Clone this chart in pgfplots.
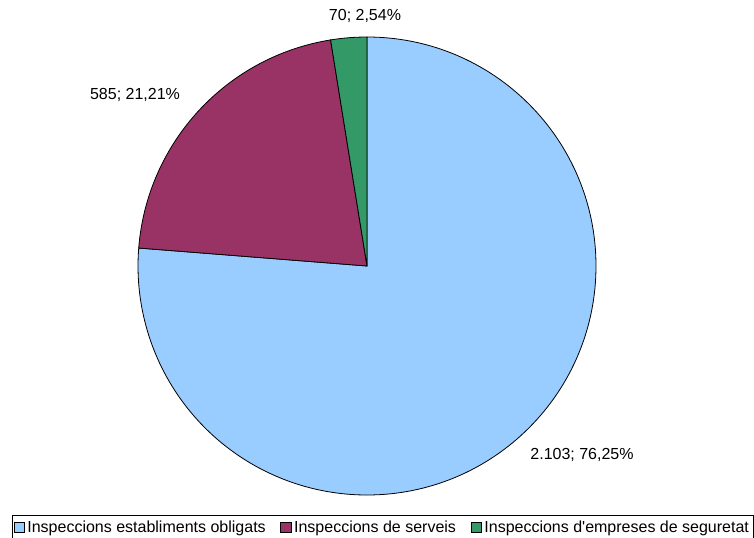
\documentclass[border=0pt]{standalone}
\usepackage{pgfplots}
\pgfplotsset{compat=1.18}
\usepackage{pgfplotstable}
\usepackage{fontspec}
\setmainfont{Liberation Sans}

\definecolor{cBlue}{HTML}{99CCFF}
\definecolor{cMaroon}{HTML}{993366}
\definecolor{cGreen}{HTML}{339966}

% valors (inspeccions)
\pgfplotstableread{
value
2103
585
70
}\piedata

\pgfplotstablegetelem{0}{value}\of\piedata \let\vA\pgfplotsretval
\pgfplotstablegetelem{1}{value}\of\piedata \let\vB\pgfplotsretval
\pgfplotstablegetelem{2}{value}\of\piedata \let\vC\pgfplotsretval
\pgfmathsetmacro\total{\vA+\vB+\vC}
\pgfmathsetmacro\fA{\vA/\total}
\pgfmathsetmacro\fB{\vB/\total}
\pgfmathsetmacro\fC{\vC/\total}
\pgfmathsetmacro\endA{90-360*\fA}
\pgfmathsetmacro\endB{\endA-360*\fB}
\pgfmathsetmacro\endC{\endB-360*\fC}

\begin{document}
\begin{tikzpicture}
\begin{axis}[
    x=0.75pt, y=0.75pt,
    xmin=0, xmax=754, ymin=0, ymax=537,
    enlargelimits=false,
    hide axis,
    clip=false,
    legend columns=3,
    legend style={
        at={(axis cs:12,22)},
        anchor=north west,
        draw=black,
        line width=0.5pt,
        font=\fontsize{12}{13}\selectfont,
        inner xsep=1pt,
        inner ysep=2pt,
        /tikz/every even column/.append style={column sep=9pt},
    },
    legend image code/.code={\draw[#1,draw=black,line width=0.5pt] (0pt,-3.6pt) rectangle (7.8pt,3.6pt);},
]
\addlegendimage{fill=cBlue}
\addlegendentry{Inspeccions establiments obligats}
\addlegendimage{fill=cMaroon}
\addlegendentry{Inspeccions de serveis}
\addlegendimage{fill=cGreen}
\addlegendentry{Inspeccions d\textquotesingle empreses de seguretat}

\filldraw[fill=cBlue, draw=black, line width=0.6pt] (axis cs:367,271) -- ++(90:171.75pt) arc[start angle=90, end angle=\endA, radius=171.75pt] -- cycle;
\filldraw[fill=cMaroon, draw=black, line width=0.6pt] (axis cs:367,271) -- ++(\endA:171.75pt) arc[start angle=\endA, end angle=\endB, radius=171.75pt] -- cycle;
\filldraw[fill=cGreen, draw=black, line width=0.6pt] (axis cs:367,271) -- ++(\endB:171.75pt) arc[start angle=\endB, end angle=\endC, radius=171.75pt] -- cycle;

\node[font=\fontsize{12}{13}\selectfont] at (axis cs:582,82) {2.103; 76,25\%};
\node[font=\fontsize{12}{13}\selectfont] at (axis cs:135,442) {585; 21,21\%};
\node[font=\fontsize{12}{13}\selectfont] at (axis cs:365,521) {70; 2,54\%};

\coordinate (bl) at (axis cs:0,0);
\coordinate (tr) at (axis cs:754,537);
\end{axis}
\pgfresetboundingbox
\path (bl) rectangle (tr);
\end{tikzpicture}
\end{document}
